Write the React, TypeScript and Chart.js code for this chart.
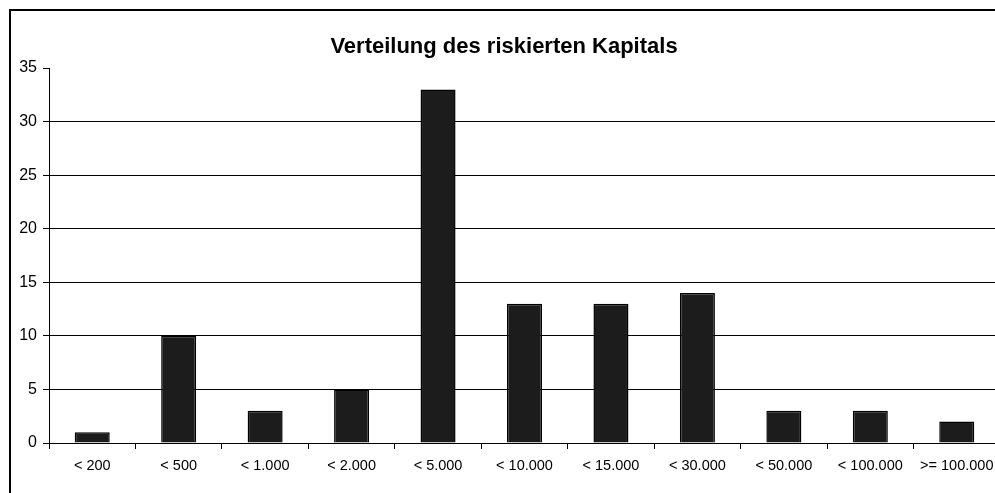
import React, { useEffect, useRef } from "react";
import { Chart, registerables } from "chart.js";

Chart.register(...registerables);

const categories = ["< 200", "< 500", "< 1.000", "< 2.000", "< 5.000", "< 10.000", "< 15.000", "< 30.000", "< 50.000", "< 100.000", ">= 100.000"];
const counts = [1, 10, 3, 5, 33, 13, 13, 14, 3, 3, 2];
const titleText = "Verteilung des riskierten Kapitals";
const yMax = 35;
const yStep = 5;

const framePlugin = {
  id: "frame",
  beforeDraw(chart: any) {
    const ctx = chart.ctx;
    ctx.save();
    ctx.fillStyle = "#ffffff";
    ctx.fillRect(0, 0, chart.width, chart.height);
    ctx.strokeStyle = "#000000";
    ctx.lineWidth = 2;
    ctx.strokeRect(10, 10, chart.width + 50, chart.height + 50);
    ctx.restore();
  },
};

export default function App() {
  const ref = useRef<HTMLCanvasElement | null>(null);
  useEffect(() => {
    if (!ref.current) return;
    const chart = new Chart(ref.current, {
      type: "bar",
      data: {
        labels: categories,
        datasets: [
          {
            data: counts,
            backgroundColor: "#1c1c1c",
            borderColor: "#000000",
            borderWidth: 1.5,
            categoryPercentage: 1,
            barPercentage: 0.405,
          },
        ],
      },
      options: {
        responsive: false,
        animation: false,
        layout: { padding: { left: 8, right: 10, top: 0, bottom: 17 } },
        plugins: {
          legend: { display: false },
          tooltip: { enabled: false },
          title: {
            display: true,
            text: titleText,
            color: "#000000",
            font: { family: "'Liberation Sans', Arial, sans-serif", size: 22, weight: "bold", lineHeight: 1.2 },
            padding: { top: 34, bottom: 7.6 },
          },
        },
        scales: {
          x: {
            offset: true,
            grid: { offset: true, drawOnChartArea: false, drawTicks: true, tickLength: 6, color: "#000000" },
            border: { display: true, color: "#000000", width: 1 },
            ticks: {
              color: "#000000",
              padding: 8,
              maxRotation: 0,
              autoSkip: false,
              font: { family: "'Liberation Sans', Arial, sans-serif", size: 14.5 },
            },
            afterFit(scale: any) {
              scale.height = 40;
            },
          },
          y: {
            min: 0,
            max: yMax,
            ticks: {
              stepSize: yStep,
              color: "#000000",
              padding: 6,
              font: { family: "'Liberation Sans', Arial, sans-serif", size: 16 },
            },
            grid: {
              color: (c: any) => (c.tick && c.tick.value === yMax ? "rgba(0,0,0,0)" : "#000000"),
              tickColor: "#000000",
              tickLength: 6,
              lineWidth: 1,
            },
            border: { display: true, color: "#000000", width: 1 },
            afterFit(scale: any) {
              scale.width = 41;
            },
          },
        },
      },
      plugins: [framePlugin],
    });
    return () => chart.destroy();
  }, []);
  return (
    <div style={{ position: "fixed", left: 0, top: 0, width: 995, height: 493, overflow: "hidden", background: "#fff" }}>
      <canvas ref={ref} width={1010} height={500} style={{ display: "block" }} />
    </div>
  );
}
